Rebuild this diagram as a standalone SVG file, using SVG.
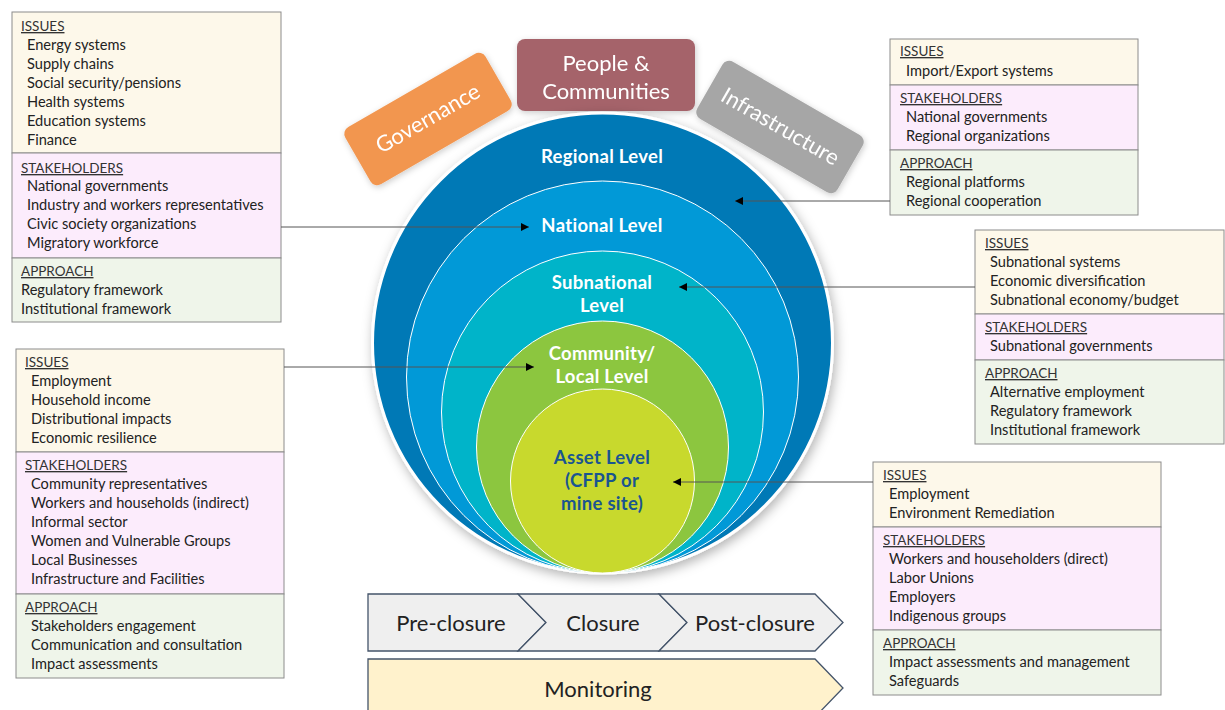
<svg xmlns="http://www.w3.org/2000/svg" width="1225" height="710" viewBox="0 0 1225 710">
<defs>
<marker id="ah" viewBox="0 0 10 10" refX="10" refY="5" markerWidth="8" markerHeight="8" markerUnits="userSpaceOnUse" orient="auto">
<path d="M0,0 L10,5 L0,10 z" fill="#000"/>
</marker>
<filter id="sh" x="-20%" y="-20%" width="140%" height="140%">
<feDropShadow dx="2" dy="4" stdDeviation="6" flood-color="#000" flood-opacity="0.3"/>
</filter>
<filter id="sh2" x="-20%" y="-20%" width="140%" height="140%">
<feDropShadow dx="1" dy="2" stdDeviation="3" flood-color="#000" flood-opacity="0.2"/>
</filter>
<style>
text{font-family:Lato,"Liberation Sans",sans-serif}
.hd{font-size:13.5px;fill:#333;text-decoration:underline}
.it{font-size:14.6px;fill:#222}
.iss{fill:#fdf8ea;stroke:#8c8c8c;stroke-width:1}
.stk{fill:#fcecfc;stroke:#8c8c8c;stroke-width:1}
.apr{fill:#eff5ea;stroke:#8c8c8c;stroke-width:1}
.lvl{font-size:18.5px;font-weight:bold;fill:#fff;text-anchor:middle;letter-spacing:0.3px}
.tab{font-size:22px;fill:#fff;text-anchor:middle}
.chev{fill:#efefef;stroke:#44546a;stroke-width:1.3}
.ph{font-size:22px;fill:#222;text-anchor:middle}
.con{stroke:#555;stroke-width:1;fill:none}
</style>
</defs>
<rect width="1225" height="710" fill="#fff"/>

<g id="tab-governance" filter="url(#sh2)">
<g transform="translate(428,119) rotate(-30)">
<rect x="-81" y="-33" width="162" height="66" rx="8" fill="#f29650"/>
<text class="tab" x="0" y="7">Governance</text>
</g>
</g>
<g id="tab-people" filter="url(#sh2)">
<rect x="517" y="39" width="178" height="72" rx="8" fill="#a5646b"/>
<text class="tab" x="606" y="71">People &amp;</text>
<text class="tab" x="606" y="99">Communities</text>
</g>
<g id="tab-infrastructure" filter="url(#sh2)">
<g transform="translate(780,127) rotate(30)">
<rect x="-81" y="-33" width="162" height="66" rx="8" fill="#a6a6a6"/>
<text class="tab" x="0" y="7">Infrastructure</text>
</g>
</g>

<g id="levels">
<g id="regional-level">
<circle cx="602.5" cy="343" r="230" fill="#0279b6" stroke="#fff" stroke-width="3" filter="url(#sh)"/>
<text class="lvl" x="602" y="163">Regional Level</text>
</g>
<g id="national-level">
<circle cx="602.5" cy="377" r="196" fill="#0199d7" stroke="#fff" stroke-width="1"/>
<text class="lvl" x="602" y="232">National Level</text>
</g>
<g id="subnational-level">
<circle cx="602.5" cy="412" r="161" fill="#00b4c9" stroke="#fff" stroke-width="1"/>
<text class="lvl" x="602" y="289">Subnational</text>
<text class="lvl" x="602" y="312">Level</text>
</g>
<g id="community-level">
<circle cx="602.5" cy="447" r="126" fill="#8cc63f" stroke="#fff" stroke-width="1"/>
<text class="lvl" x="602" y="360">Community/</text>
<text class="lvl" x="602" y="383">Local Level</text>
</g>
<g id="asset-level">
<circle cx="602.5" cy="481" r="92" fill="#c8d92d" stroke="#fff" stroke-width="1"/>
<text class="lvl" x="602" y="464" style="fill:#1a5590">Asset Level</text>
<text class="lvl" x="602" y="487" style="fill:#1a5590">(CFPP or</text>
<text class="lvl" x="602" y="510" style="fill:#1a5590">mine site)</text>
</g>
</g>

<g id="phases">
<g id="pre-closure">
<polygon class="chev" points="368,594 518,594 546,622.5 518,651 368,651"/>
<text class="ph" x="451" y="631">Pre-closure</text>
</g>
<g id="closure">
<polygon class="chev" points="518,594 659,594 687,622.5 659,651 518,651 546,622.5"/>
<text class="ph" x="603" y="631">Closure</text>
</g>
<g id="post-closure">
<polygon class="chev" points="659,594 815,594 843,622.5 815,651 659,651 687,622.5"/>
<text class="ph" x="755" y="631">Post-closure</text>
</g>
<g id="monitoring">
<polygon points="368,659 815,659 843,688 815,717 368,717" fill="#fff2cc" stroke="#44546a" stroke-width="1.3"/>
<text class="ph" x="598" y="697">Monitoring</text>
</g>
</g>

<g id="box-national">
<rect class="iss" x="12" y="12" width="269" height="141"/>
<rect class="stk" x="12" y="153" width="269" height="105"/>
<rect class="apr" x="12" y="258" width="269" height="64"/>
<text class="hd" x="21" y="31">ISSUES</text>
<text class="it" x="27" y="50">Energy systems</text>
<text class="it" x="27" y="69">Supply chains</text>
<text class="it" x="27" y="88">Social security/pensions</text>
<text class="it" x="27" y="107">Health systems</text>
<text class="it" x="27" y="126">Education systems</text>
<text class="it" x="27" y="145">Finance</text>
<text class="hd" x="21" y="173">STAKEHOLDERS</text>
<text class="it" x="27" y="191">National governments</text>
<text class="it" x="27" y="210">Industry and workers representatives</text>
<text class="it" x="27" y="229">Civic society organizations</text>
<text class="it" x="27" y="248">Migratory workforce</text>
<text class="hd" x="21" y="276">APPROACH</text>
<text class="it" x="21" y="295">Regulatory framework</text>
<text class="it" x="21" y="314">Institutional framework</text>
</g>

<g id="box-regional">
<rect class="iss" x="890" y="39" width="248" height="46"/>
<rect class="stk" x="890" y="85" width="248" height="65"/>
<rect class="apr" x="890" y="150" width="248" height="65"/>
<text class="hd" x="900" y="56">ISSUES</text>
<text class="it" x="906" y="76">Import/Export systems</text>
<text class="hd" x="900" y="103">STAKEHOLDERS</text>
<text class="it" x="906" y="122">National governments</text>
<text class="it" x="906" y="141">Regional organizations</text>
<text class="hd" x="900" y="168">APPROACH</text>
<text class="it" x="906" y="187">Regional platforms</text>
<text class="it" x="906" y="206">Regional cooperation</text>
</g>

<g id="box-subnational">
<rect class="iss" x="975" y="230" width="249" height="84"/>
<rect class="stk" x="975" y="314" width="249" height="46"/>
<rect class="apr" x="975" y="360" width="249" height="84"/>
<text class="hd" x="985" y="248">ISSUES</text>
<text class="it" x="990" y="267">Subnational systems</text>
<text class="it" x="990" y="286">Economic diversification</text>
<text class="it" x="990" y="305">Subnational economy/budget</text>
<text class="hd" x="985" y="332">STAKEHOLDERS</text>
<text class="it" x="990" y="351">Subnational governments</text>
<text class="hd" x="985" y="378">APPROACH</text>
<text class="it" x="990" y="397">Alternative employment</text>
<text class="it" x="990" y="416">Regulatory framework</text>
<text class="it" x="990" y="435">Institutional framework</text>
</g>

<g id="box-community">
<rect class="iss" x="16" y="349" width="268" height="103"/>
<rect class="stk" x="16" y="452" width="268" height="142"/>
<rect class="apr" x="16" y="594" width="268" height="84"/>
<text class="hd" x="25" y="367">ISSUES</text>
<text class="it" x="31" y="386">Employment</text>
<text class="it" x="31" y="405">Household income</text>
<text class="it" x="31" y="424">Distributional impacts</text>
<text class="it" x="31" y="443">Economic resilience</text>
<text class="hd" x="25" y="470">STAKEHOLDERS</text>
<text class="it" x="31" y="489">Community representatives</text>
<text class="it" x="31" y="508">Workers and households (indirect)</text>
<text class="it" x="31" y="527">Informal sector</text>
<text class="it" x="31" y="546">Women and Vulnerable Groups</text>
<text class="it" x="31" y="565">Local Businesses</text>
<text class="it" x="31" y="584">Infrastructure and Facilities</text>
<text class="hd" x="25" y="612">APPROACH</text>
<text class="it" x="31" y="631">Stakeholders engagement</text>
<text class="it" x="31" y="650">Communication and consultation</text>
<text class="it" x="31" y="669">Impact assessments</text>
</g>

<g id="box-asset">
<rect class="iss" x="873" y="462" width="288" height="65"/>
<rect class="stk" x="873" y="527" width="288" height="103"/>
<rect class="apr" x="873" y="630" width="288" height="65"/>
<text class="hd" x="883" y="480">ISSUES</text>
<text class="it" x="889" y="499">Employment</text>
<text class="it" x="889" y="518">Environment Remediation</text>
<text class="hd" x="883" y="545">STAKEHOLDERS</text>
<text class="it" x="889" y="564">Workers and householders (direct)</text>
<text class="it" x="889" y="583">Labor Unions</text>
<text class="it" x="889" y="602">Employers</text>
<text class="it" x="889" y="621">Indigenous groups</text>
<text class="hd" x="883" y="648">APPROACH</text>
<text class="it" x="889" y="667">Impact assessments and management</text>
<text class="it" x="889" y="686">Safeguards</text>
</g>

<g id="connectors">
<line class="con" x1="281" y1="227" x2="529" y2="227" marker-end="url(#ah)"/>
<line class="con" x1="890" y1="201" x2="735" y2="201" marker-end="url(#ah)"/>
<line class="con" x1="975" y1="287" x2="679" y2="287" marker-end="url(#ah)"/>
<line class="con" x1="284" y1="367" x2="534" y2="367" marker-end="url(#ah)"/>
<line class="con" x1="873" y1="482" x2="673" y2="482" marker-end="url(#ah)"/>
</g>
</svg>
